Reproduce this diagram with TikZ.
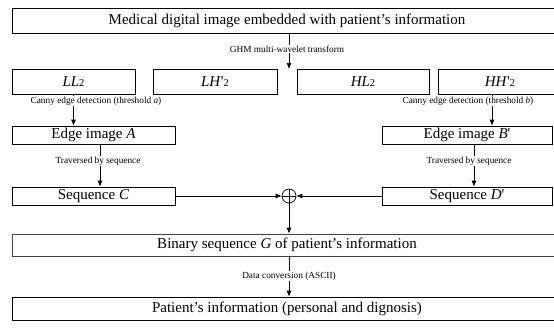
\documentclass[tikz,border=0pt]{standalone}
\usepackage{fontspec}
\setmainfont{Liberation Serif}[Ligatures=TeXOff]
\usetikzlibrary{arrows.meta}
\tikzset{
  box/.style={draw=black, line width=0.7pt, minimum height=25pt, inner sep=0pt, font=\fontsize{15}{17}\selectfont},
  lowbox/.style={box, minimum height=18pt},
  lbl/.style={fill=white, inner sep=1pt, font=\fontsize{9.3}{10}\selectfont},
  arr/.style={line width=0.7pt, -{Latex[length=6pt,width=5pt]}},
  xorc/.style={draw=black, line width=0.7pt, circle, minimum size=14pt, inner sep=0pt}
}
\newcommand{\two}{{\fontsize{10.5}{10}\selectfont 2}}
\begin{document}
\begin{tikzpicture}[x=1pt,y=-1pt]
\useasboundingbox (0,0) rectangle (554,327);
\clip (0,0) rectangle (554,327);
% boxes
\node[box, minimum width=550pt] (top) at (287,20.5) {Medical digital image embedded with patient’s information};
\node[box, minimum width=123pt] (ll) at (73.5,81.5) {\textit{LL}\two};
\node[box, minimum width=124pt] (lh) at (215,81.5) {\textit{LH}'\two};
\node[box, minimum width=132pt] (hl) at (363,81.5) {\textit{HL}\two};
\node[box, minimum width=124pt] (hh) at (500,81.5) {\textit{HH}'\two};
\node[lowbox, minimum width=163pt] (ea) at (93.5,135) {Edge image \textit{A}};
\node[lowbox, minimum width=170pt] (eb) at (467,135) {Edge image \textit{B}'};
\node[lowbox, minimum width=163pt] (sc) at (93.5,196) {Sequence \textit{C}};
\node[lowbox, minimum width=170pt] (sd) at (467,196) {Sequence \textit{D}'};
\node[xorc] (x) at (289,196) {};
\draw[line width=0.7pt] (x.north) -- (x.south) (x.west) -- (x.east);
\node[box, draw=black!75, minimum height=22pt, minimum width=550pt] (bin) at (287,245) {Binary sequence \textit{G} of patient’s information};
\node[box, minimum height=23pt, minimum width=550pt] (pat) at (287,308.5) {Patient’s information (personal and dignosis)};
% connectors
\coordinate (t1) at (289,33);
\coordinate (t2) at (289,69);
\draw[arr] (t1) -- (t2);
\draw[arr] (ll.south) -- (ea.north -| ll.south);
\coordinate (hb) at (492,94);
\draw[arr] (hb) -- (eb.north -| hb);
\coordinate (ea1) at (100,144);
\draw[arr] (ea1) -- (sc.north -| ea1);
\coordinate (eb1) at (474,144);
\draw[arr] (eb1) -- (sd.north -| eb1);
\draw[arr] (sc.east) -- (x.west);
\draw[arr] (sd.west) -- (x.east);
\draw[arr] (x.south) -- (bin.north -| x.south);
\draw[arr] (bin.south -| x.south) -- (pat.north -| x.south);
% labels
\node[lbl] (l1) at (287,49) {GHM multi-wavelet transform};
\node[lbl] (l2) at (96,101) {Canny edge detection (threshold \textit{a})};
\node[lbl] (l3) at (468,101) {Canny edge detection (threshold \textit{b})};
\node[lbl] (l4) at (98,161) {Traversed by sequence};
\node[lbl] (l5) at (469,161) {Traversed by sequence};
\node[lbl] (l6) at (289,276) {Data conversion (ASCII)};
\end{tikzpicture}
\end{document}
